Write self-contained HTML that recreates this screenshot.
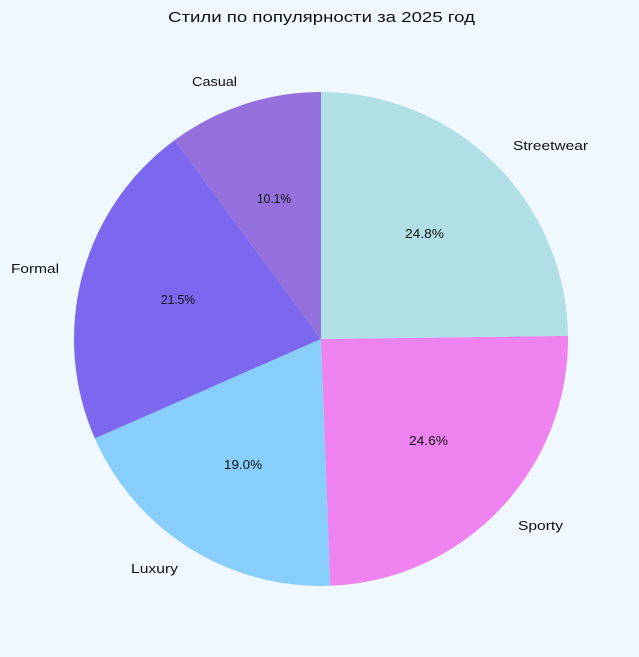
<!DOCTYPE html>
<html><head><meta charset="utf-8"><style>
html,body{margin:0;padding:0;background:#F0F8FF;}
svg{display:block;font-family:"Liberation Sans","DejaVu Sans",sans-serif;}
</style></head><body>
<svg width="639" height="657" viewBox="0 0 639 657">
<rect width="639" height="657" fill="#F0F8FF"/>
<text x="168" y="22" font-size="15" textLength="307" lengthAdjust="spacingAndGlyphs" fill="#111">Стили по популярности за 2025 год</text>
<path d="M321,339 L321,92 A247,247 0 0 0 174.6,140.1 Z" fill="#9370DB"/>
<path d="M321,339 L174.6,140.1 A247,247 0 0 0 94.9,438.5 Z" fill="#7B68EE"/>
<path d="M321,339 L94.9,438.5 A247,247 0 0 0 330.3,585.8 Z" fill="#87CEFA"/>
<path d="M321,339 L330.3,585.8 A247,247 0 0 0 568,335.9 Z" fill="#EE82EE"/>
<path d="M321,339 L568,335.9 A247,247 0 0 0 321,92 Z" fill="#B0E0E6"/>
<g font-size="13" fill="#111" lengthAdjust="spacingAndGlyphs">
<text x="192" y="86" textLength="45" lengthAdjust="spacingAndGlyphs">Casual</text>
<text x="11" y="273" textLength="48" lengthAdjust="spacingAndGlyphs">Formal</text>
<text x="131" y="573" textLength="47" lengthAdjust="spacingAndGlyphs">Luxury</text>
<text x="518" y="530" textLength="45" lengthAdjust="spacingAndGlyphs">Sporty</text>
<text x="513" y="150" textLength="75" lengthAdjust="spacingAndGlyphs">Streetwear</text>
<text x="257" y="203" textLength="34" lengthAdjust="spacingAndGlyphs">10.1%</text>
<text x="161" y="304" textLength="34" lengthAdjust="spacingAndGlyphs">21.5%</text>
<text x="224" y="469" textLength="38" lengthAdjust="spacingAndGlyphs">19.0%</text>
<text x="409" y="445" textLength="39" lengthAdjust="spacingAndGlyphs">24.6%</text>
<text x="405" y="238" textLength="39" lengthAdjust="spacingAndGlyphs">24.8%</text>
</g>
</svg>
</body></html>
